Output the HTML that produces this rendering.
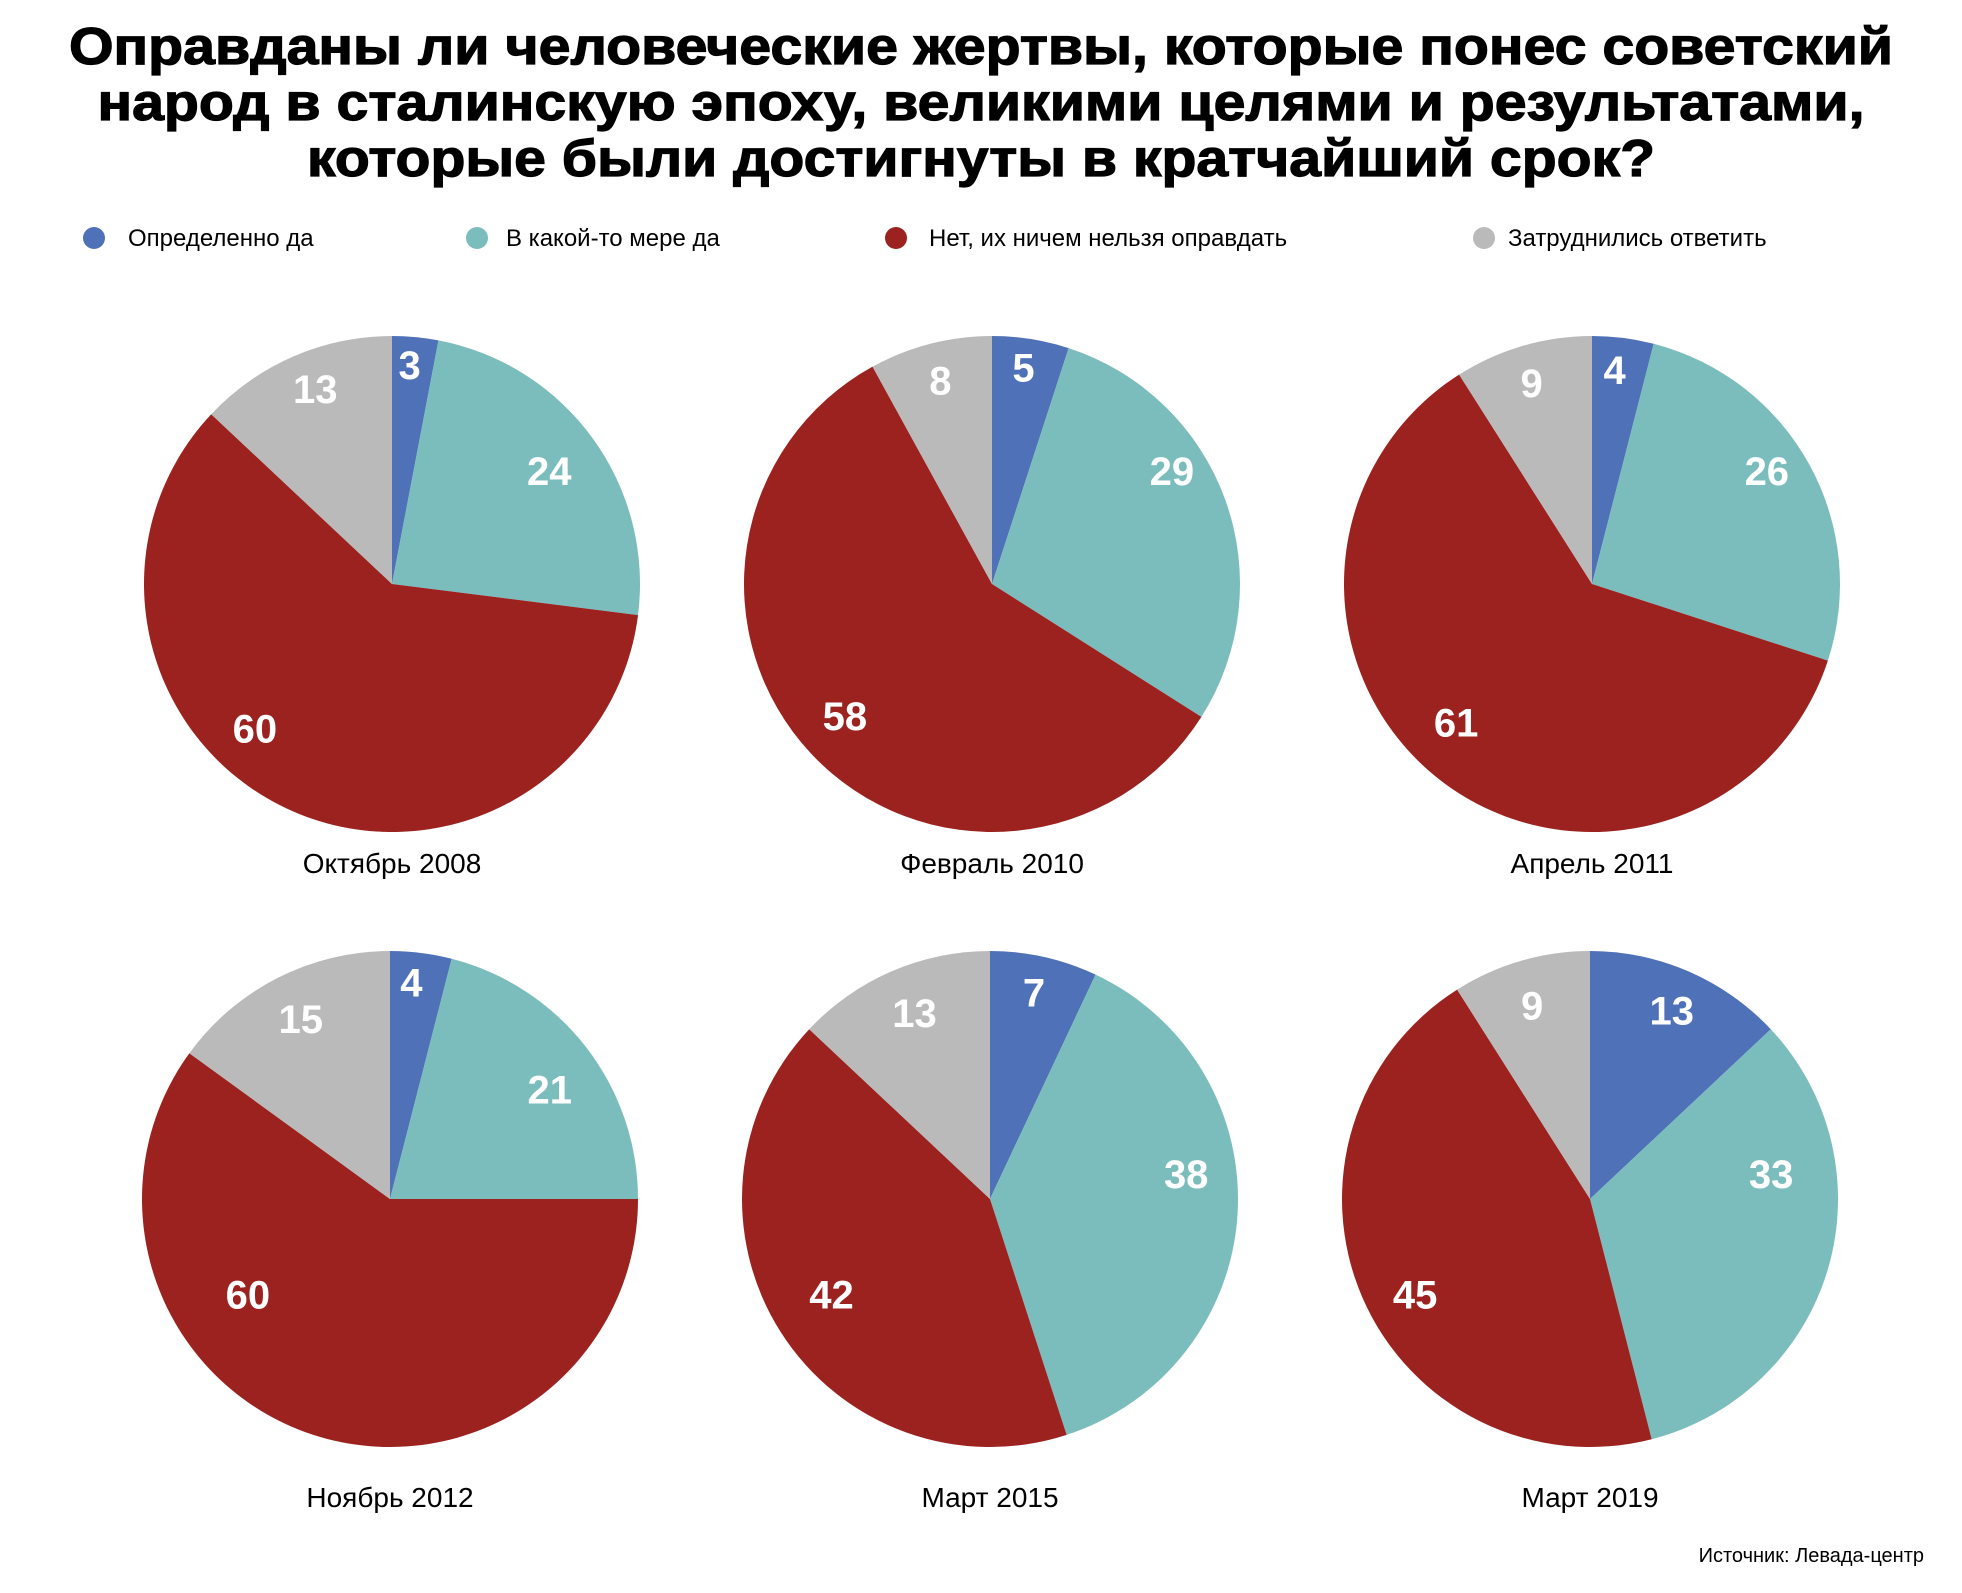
<!DOCTYPE html>
<html><head><meta charset="utf-8"><style>
body{margin:0;background:#fff;width:1962px;height:1588px;overflow:hidden;font-family:"Liberation Sans","DejaVu Sans",sans-serif}
</style></head><body>
<svg id="s" width="1962" height="1588" xmlns="http://www.w3.org/2000/svg" font-family="Liberation Sans, DejaVu Sans, sans-serif">
<g font-weight="bold" font-size="52" text-anchor="middle" fill="#000" stroke="#000" stroke-width="1.2">
<text x="981" y="64" textLength="1824" lengthAdjust="spacingAndGlyphs">Оправданы ли человеческие жертвы, которые понес советский</text>
<text x="981" y="120" textLength="1767" lengthAdjust="spacingAndGlyphs">народ в сталинскую эпоху, великими целями и результатами,</text>
<text x="981" y="176" textLength="1348" lengthAdjust="spacingAndGlyphs">которые были достигнуты в кратчайший срок?</text>
</g>
<g font-size="24" fill="#000">
<circle cx="94" cy="238" r="11" fill="#4f71b7"/><text x="128" y="246">Определенно да</text>
<circle cx="477" cy="238" r="11" fill="#7bbdbc"/><text x="506" y="246">В какой-то мере да</text>
<circle cx="896" cy="238" r="11" fill="#9b221e"/><text x="929" y="246">Нет, их ничем нельзя  оправдать</text>
<circle cx="1484" cy="238" r="11" fill="#bababa"/><text x="1508" y="246">Затруднились ответить</text>
</g>
<text x="1924" y="1562" font-size="20" text-anchor="end">Источник: Левада-центр</text>
<g id="p"></g>
</svg>
<script>
var cols=["#4f71b7","#7bbdbc","#9b221e","#bababa"];
var S=1.2577;
var data=[[392,584,[3,24,60,13],"Октябрь 2008",863,[[14,-174],[125,-90],[-109,115],[-61,-155]]],
[992,584,[5,29,58,8],"Февраль 2010",863,[[25,-172],[143,-90],[-117,105],[-41,-162]]],
[1592,584,[4,26,61,9],"Апрель 2011",863,[[18,-170],[139,-90],[-108,110],[-48,-160]]],
[390,1199,[4,21,60,15],"Ноябрь 2012",1497,[[17,-172],[127,-87],[-113,76],[-71,-143]]],
[990,1199,[7,38,42,13],"Март 2015",1497,[[35,-164],[156,-20],[-126,76],[-60,-148]]],
[1590,1199,[13,33,45,9],"Март 2019",1497,[[65,-150],[144,-20],[-139,76],[-46,-154]]]];
var r=248,h="";
data.forEach(function(d){
 var cx=d[0],cy=d[1],v=d[2],a=0;
 var lab="";
 v.forEach(function(p,i){
  var a0=a/100*2*Math.PI,a1=(a+p)/100*2*Math.PI;a+=p;
  var x0=cx+r*Math.sin(a0),y0=cy-r*Math.cos(a0),x1=cx+r*Math.sin(a1),y1=cy-r*Math.cos(a1);
  h+='<path d="M'+cx+','+cy+'L'+x0+','+y0+'A'+r+','+r+' 0 '+(p>50?1:0)+' 1 '+x1+','+y1+'Z" fill="'+cols[i]+'"/>';
  var o=d[5][i];
  var lx=cx+o[0]*S,ly=cy+o[1]*S;
  lab+='<text x="'+lx+'" y="'+(ly+14)+'" fill="#fff" font-weight="bold" font-size="40" text-anchor="middle">'+p+'</text>';
 });
 h+=lab+'<text x="'+cx+'" y="'+(d[4]+10)+'" font-size="28" text-anchor="middle">'+d[3]+'</text>';
});
document.getElementById("p").innerHTML=h;
</script>
</body></html>
